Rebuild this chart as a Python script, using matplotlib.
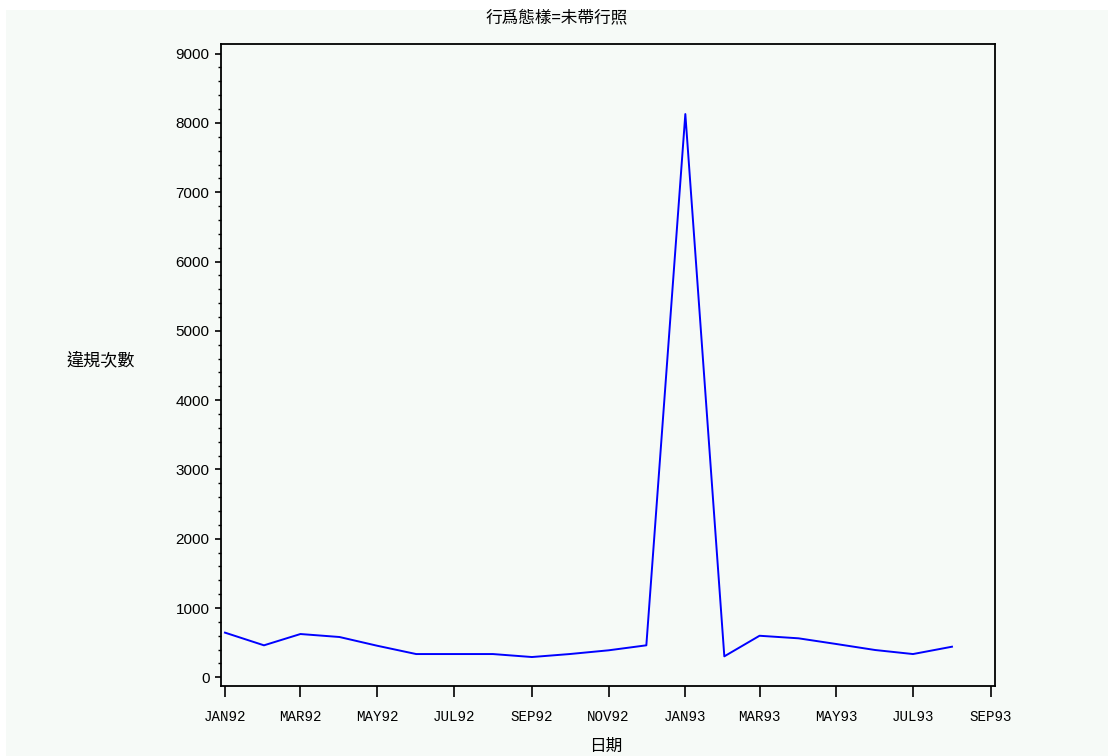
import matplotlib
matplotlib.use("Agg")
import matplotlib.pyplot as plt
import matplotlib.dates as mdates
from matplotlib.patches import Rectangle
from matplotlib.ticker import MultipleLocator, FixedLocator
import datetime as dt

# ---- data ----
months = ["1992-01", "1992-02", "1992-03", "1992-04", "1992-05", "1992-06",
          "1992-07", "1992-08", "1992-09", "1992-10", "1992-11", "1992-12",
          "1993-01", "1993-02", "1993-03", "1993-04", "1993-05", "1993-06",
          "1993-07", "1993-08"]
counts = [645, 462, 625, 582, 456, 336, 336, 336, 293, 336, 390, 462,
          8128, 303, 600, 563, 481, 394, 336, 442]
tick_months = ["1992-01", "1992-03", "1992-05", "1992-07", "1992-09", "1992-11",
               "1993-01", "1993-03", "1993-05", "1993-07", "1993-09"]
tick_labels = ["JAN92", "MAR92", "MAY92", "JUL92", "SEP92", "NOV92",
               "JAN93", "MAR93", "MAY93", "JUL93", "SEP93"]
y_ticks = [0, 1000, 2000, 3000, 4000, 5000, 6000, 7000, 8000, 9000]
title = "行爲態樣=未帶行照"
ylabel = "違規次數"
xlabel = "日期"

def to_date(s):
    y, m = s.split("-")
    return dt.datetime(int(y), int(m), 1)

dates = [to_date(s) for s in months]
tick_dates = [to_date(s) for s in tick_months]

cjk = ["Noto Sans CJK TC", "DejaVu Sans"]
bg = "#F6FAF7"

W, H = 1108, 756
fig = plt.figure(figsize=(W / 100, H / 100), dpi=100, facecolor="white")
fig.patches.append(Rectangle((6 / W, 0), 1 - 6 / W, 1 - 10 / H,
                             transform=fig.transFigure, facecolor=bg,
                             edgecolor="none", zorder=-10))

left, right, top, bottom = 220.7, 995, 43.5, 686
ax = fig.add_axes([left / W, 1 - bottom / H, (right - left) / W, (bottom - top) / H])
ax.set_facecolor(bg)

ax.plot(mdates.date2num(dates), counts, color="#0000FF", linewidth=1.4)

x0 = mdates.date2num(tick_dates[0]) - 3.4
x1 = mdates.date2num(tick_dates[-1]) + 3.2
ax.set_xlim(x0, x1)
ax.set_ylim(-125, 9146)

ax.xaxis.set_major_locator(FixedLocator(mdates.date2num(tick_dates)))
ax.set_xticklabels(tick_labels, fontfamily="Liberation Mono", fontsize=10.2)
ax.yaxis.set_major_locator(FixedLocator(y_ticks))
ax.yaxis.set_minor_locator(MultipleLocator(200))
ax.set_yticklabels([str(v) for v in y_ticks], fontfamily="Liberation Sans", fontsize=11)

ax.tick_params(axis="x", which="major", length=8, width=1.2, pad=9.5, direction="out")
ax.tick_params(axis="y", which="major", length=4, width=1.2, pad=4, direction="out")
ax.tick_params(axis="y", which="minor", length=2.5, width=1.0, direction="out")

for s in ax.spines.values():
    s.set_linewidth(1.3)
    s.set_color("black")

fig.text(557 / W, 1 - 18 / H, title, ha="center", va="center",
         fontfamily=cjk, fontsize=12)
fig.text(101 / W, 1 - 360 / H, ylabel, ha="center", va="center",
         fontfamily=cjk, fontsize=12.3)
fig.text(606 / W, 1 - 746 / H, xlabel, ha="center", va="center",
         fontfamily=cjk, fontsize=12)

fig.savefig("out.png", dpi=100, facecolor="white")
